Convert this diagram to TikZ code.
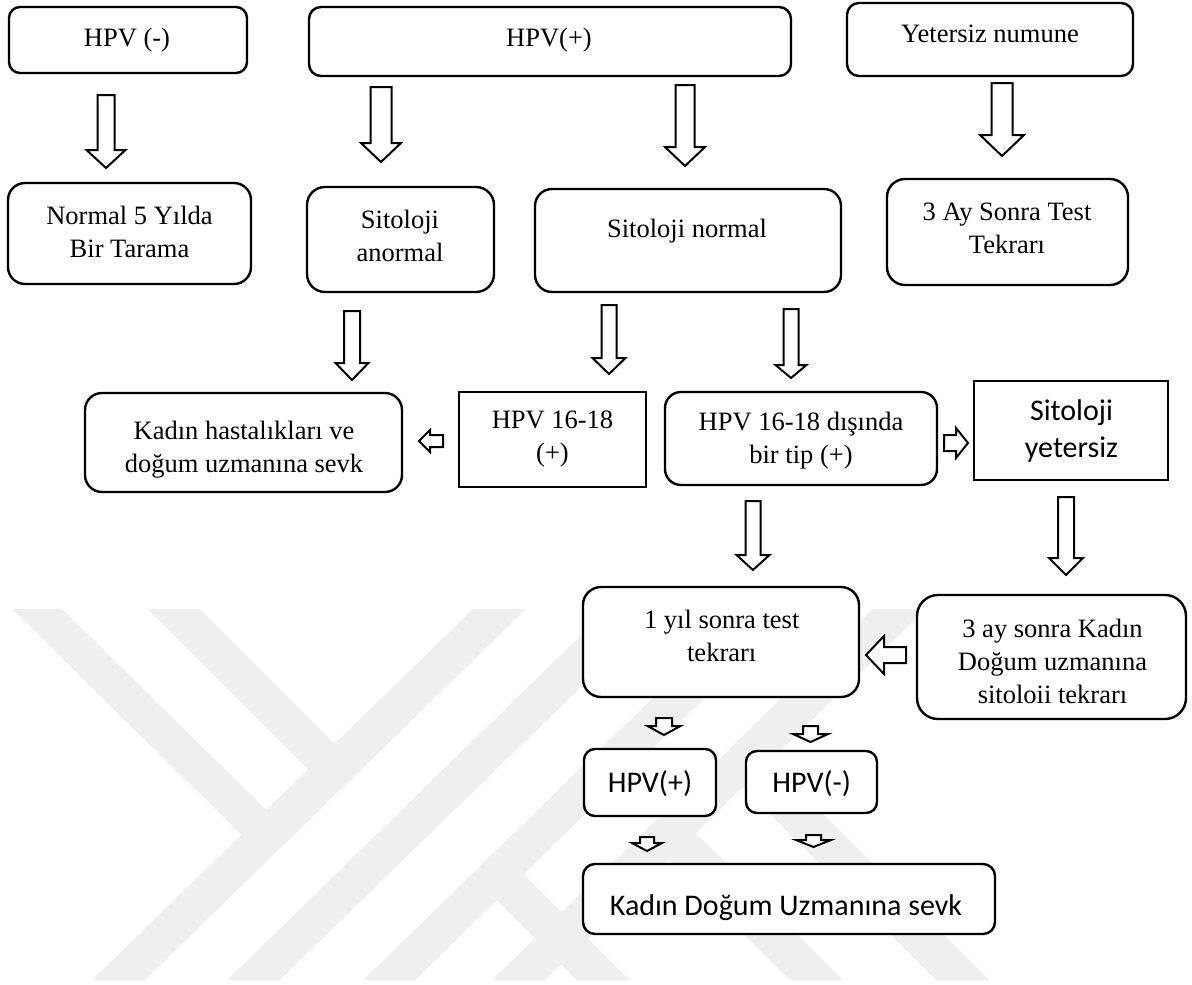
\documentclass[tikz,border=0pt]{standalone}
\usepackage{fontspec}
\setmainfont{Liberation Serif}
\newfontfamily\calib{Carlito}
\usetikzlibrary{calc}
\definecolor{wm}{RGB}{239,239,239}
\tikzset{
  box/.style={draw=black, line width=2.4pt, fill=white, inner sep=0pt, outer sep=0pt},
  rbox/.style={box, rounded corners=#1},
  ttxt/.style={font=\fontsize{26.5}{33}\selectfont, align=center, inner sep=0pt},
  ctxt/.style={font=\calib\fontsize{30}{37}\selectfont, align=center, inner sep=0pt},
  blkarrow/.style={draw=black, line width=2pt, fill=white, line join=miter},
  wmark/.style={fill=wm, draw=none}
}
% block arrows between named coordinates: start, tip, shaft half width, head half width, head length
\newcommand\blkdown[5]{\draw[blkarrow] ($(#1 -| #2)+(-#3,0)$) -- ($(#2)+(-#3,-#5)$) -- ($(#2)+(-#4,-#5)$) -- (#2) -- ($(#2)+(#4,-#5)$) -- ($(#2)+(#3,-#5)$) -- ($(#1 -| #2)+(#3,0)$) -- cycle;}
\newcommand\blkleft[5]{\draw[blkarrow] ($(#1 |- #2)+(0,-#3)$) -- ($(#2)+(#5,-#3)$) -- ($(#2)+(#5,-#4)$) -- (#2) -- ($(#2)+(#5,#4)$) -- ($(#2)+(#5,#3)$) -- ($(#1 |- #2)+(0,#3)$) -- cycle;}
\newcommand\blkright[5]{\draw[blkarrow] ($(#1 |- #2)+(0,-#3)$) -- ($(#2)+(-#5,-#3)$) -- ($(#2)+(-#5,-#4)$) -- (#2) -- ($(#2)+(-#5,#4)$) -- ($(#2)+(-#5,#3)$) -- ($(#1 |- #2)+(0,#3)$) -- cycle;}
\begin{document}
\begin{tikzpicture}[x=1pt,y=-1pt]
\fill[white] (0,0) rectangle (1192,985);
\path[use as bounding box] (0,0) rectangle (1192,985);

% watermark
\fill[wmark] (92,980) -- (473,609) -- (526,609) -- (145,980) -- cycle;
\fill[wmark] (12,609) -- (62,609) -- (290,833) -- (262,855) -- cycle;
\fill[wmark] (148,609) -- (200,609) -- (356,765) -- (329,790) -- cycle;
\fill[wmark] (227,980) -- (608,609) -- (661,609) -- (280,980) -- cycle;
\fill[wmark] (363,980) -- (744,609) -- (796,609) -- (415,980) -- cycle;
\fill[wmark] (492,980) -- (873,609) -- (926,609) -- (545,980) -- cycle;
\fill[wmark] (511,861) -- (630,980) -- (577,980) -- (484,887) -- cycle;
\fill[wmark] (683,820) -- (843,980) -- (790,980) -- (656,846) -- cycle;
\fill[wmark] (757,748) -- (989,980) -- (936,980) -- (730,774) -- cycle;

% boxes
\node[rbox=11, minimum width=238pt, minimum height=66pt] (b1) at (128,40) {};
\node[rbox=12, minimum width=482pt, minimum height=69pt] (b2) at (550,41.5) {};
\node[rbox=12, minimum width=286pt, minimum height=73pt] (b3) at (990,39.5) {};
\node[rbox=17, minimum width=243pt, minimum height=101pt] (b4) at (129.5,233.5) {};
\node[rbox=18, minimum width=187pt, minimum height=105pt] (b5) at (400.5,239.5) {};
\node[rbox=17, minimum width=306pt, minimum height=103pt] (b6) at (688,240.5) {};
\node[rbox=18, minimum width=241pt, minimum height=106pt] (b7) at (1007.5,232) {};
\node[rbox=17, minimum width=317pt, minimum height=99pt] (b8) at (243.5,442.5) {};
\node[box, minimum width=187pt, minimum height=95pt] (b9) at (552.5,439.5) {};
\node[rbox=16, minimum width=272pt, minimum height=93pt] (b10) at (801,438.5) {};
\node[box, minimum width=194pt, minimum height=99pt] (b11) at (1071,430.5) {};
\node[rbox=18, minimum width=276pt, minimum height=110pt] (b12) at (721,642) {};
\node[rbox=21, minimum width=269pt, minimum height=124pt] (b13) at (1051.5,657) {};
\node[rbox=11, minimum width=132pt, minimum height=67pt] (b14) at (650,782.5) {};
\node[rbox=11, minimum width=131pt, minimum height=62pt] (b15) at (811.5,782) {};
\node[rbox=12, minimum width=412pt, minimum height=70pt] (b16) at (789,899) {};

% texts
\node[ttxt, anchor=base] (t1) at (127,46) {HPV (-)};
\node[ttxt, anchor=base] (t2) at (549,46) {HPV(+)};
\node[ttxt, anchor=base] (t3) at (990,42) {Yetersiz numune};
\node[ttxt] (t4) at (129.5,233.9) {\strut Normal 5 Yılda\\\strut Bir Tarama};
\node[ttxt] (t5) at (400,237.9) {\strut Sitoloji\\\strut anormal};
\node[ttxt, anchor=base] (t6) at (687,237) {Sitoloji normal};
\node[ttxt] (t7) at (1007,229.9) {\strut 3 Ay Sonra Test\\\strut Tekrarı};
\node[ttxt] (t8) at (244,449.4) {\strut Kadın hastalıkları ve\\\strut doğum uzmanına sevk};
\node[ttxt] (t9) at (552.5,437.9) {\strut HPV 16-18\\\strut (+)};
\node[ttxt] (t10) at (801,439.9) {\strut HPV 16-18 dışında\\\strut bir tip (+)};
\node[ctxt] (t11) at (1071.5,431.6) {\strut Sitoloji\\\strut yetersiz};
\node[ttxt] (t12) at (721.7,638.4) {\strut 1 yıl sonra test\\\strut tekrarı};
\node[ttxt] (t13) at (1052.5,663.4) {\strut 3 ay sonra Kadın\\\strut Doğum uzmanına\\\strut sitoloii tekrarı};
\node[ctxt, anchor=base] (t14) at (650,792) {HPV(+)};
\node[ctxt, anchor=base] (t15) at (811.7,792) {HPV(-)};
\node[ctxt, anchor=base] (t16) at (786,915) {Kadın Doğum Uzmanına sevk};

% arrow end coordinates
\coordinate (a1s) at (106,95);   \coordinate (a1e) at (106,168);
\coordinate (a2s) at (380,87);   \coordinate (a2e) at (381,162);
\coordinate (a3s) at (685,85);   \coordinate (a3e) at (685,166);
\coordinate (a4s) at (1002,83);  \coordinate (a4e) at (1002,156);
\coordinate (a5s) at (352,311);  \coordinate (a5e) at (352,380);
\coordinate (a6s) at (609,305);  \coordinate (a6e) at (609,374);
\coordinate (a7s) at (791,309);  \coordinate (a7e) at (791,378);
\coordinate (a8s) at (753,501);  \coordinate (a8e) at (753,570);
\coordinate (a9s) at (1066,497); \coordinate (a9e) at (1066,575);
\coordinate (a10s) at (443,441); \coordinate (a10e) at (419,441);
\coordinate (a11s) at (944,443); \coordinate (a11e) at (968,443);
\coordinate (a12s) at (906,655); \coordinate (a12e) at (866,655);
\coordinate (a13s) at (664,718); \coordinate (a13e) at (664,735);
\coordinate (a14s) at (810.5,726); \coordinate (a14e) at (810.5,742);
\coordinate (a15s) at (647,837); \coordinate (a15e) at (647,851);
\coordinate (a16s) at (813.5,835); \coordinate (a16e) at (813.5,847);

\blkdown{a1s}{a1e}{8.5}{19.5}{18}
\blkdown{a2s}{a2e}{10.5}{20}{19}
\blkdown{a3s}{a3e}{9.5}{20}{19}
\blkdown{a4s}{a4e}{10.5}{22}{21}
\blkdown{a5s}{a5e}{8}{16.5}{17}
\blkdown{a6s}{a6e}{7.5}{16.5}{16}
\blkdown{a7s}{a7e}{7.5}{15.5}{13}
\blkdown{a8s}{a8e}{7.5}{16.5}{15}
\blkdown{a9s}{a9e}{8}{17}{17}
\blkleft{a10s}{a10e}{6}{11}{11}
\blkright{a11s}{a11e}{8}{15}{12}
\blkleft{a12s}{a12e}{8}{19}{18}
\blkdown{a13s}{a13e}{8}{16.5}{9}
\blkdown{a14s}{a14e}{7.5}{17.5}{8}
\blkdown{a15s}{a15e}{7}{15}{8}
\blkdown{a16s}{a16e}{7.5}{17.5}{7}
\end{tikzpicture}
\end{document}
